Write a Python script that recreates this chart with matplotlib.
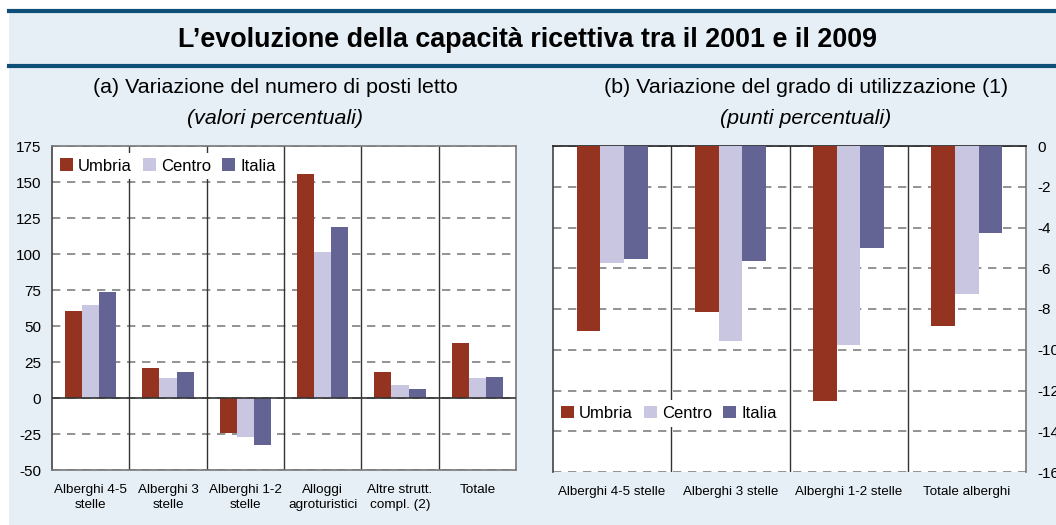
import numpy as np
import matplotlib.pyplot as plt
from matplotlib.lines import Line2D

plt.rcParams['font.family'] = ['Liberation Sans', 'DejaVu Sans']
plt.rcParams['axes.unicode_minus'] = False

series = ['Umbria', 'Centro', 'Italia']
colors = ['#943420', '#C9C6E2', '#636394']

cat_a = ['Alberghi 4-5\nstelle', 'Alberghi 3\nstelle', 'Alberghi 1-2\nstelle',
         'Alloggi\nagroturistici', 'Altre strutt.\ncompl. (2)', 'Totale']
umbria_a = [60.4, 20.8, -24.3, 155.6, 18.0, 38.2]
centro_a = [64.6, 13.9, -26.9, 101.4, 9.0, 13.9]
italia_a = [73.6, 18.0, -32.6, 118.8, 6.3, 14.6]

cat_b = ['Alberghi 4-5 stelle', 'Alberghi 3 stelle', 'Alberghi 1-2 stelle', 'Totale alberghi']
umbria_b = [-9.07, -8.14, -12.5, -8.83]
centro_b = [-5.73, -9.57, -9.76, -7.26]
italia_b = [-5.54, -5.63, -5.0, -4.26]

bg = '#E6EFF6'
navy = '#0E5078'

fig = plt.figure(figsize=(10.56, 5.25), dpi=100)
fig.patch.set_facecolor('white')

# background panel and title band
fig.patches.append(plt.Rectangle((9 / 1056, 0), 1 - 9 / 1056, 1 - 11 / 525,
                                 transform=fig.transFigure, facecolor=bg, edgecolor='none', zorder=-10))
for yy in [11, 66]:
    fig.add_artist(Line2D([9 / 1056, 1], [1 - yy / 525] * 2, transform=fig.transFigure,
                          color=navy, lw=3))
fig.text(0.5, 1 - 40 / 525, 'L\u2019evoluzione della capacità ricettiva tra il 2001 e il 2009',
         ha='center', va='center', fontsize=19.4, fontweight='bold', color='black')

fig.text(275 / 1056, 1 - 88 / 525, '(a) Variazione del numero di posti letto',
         ha='center', va='center', fontsize=15.4)
fig.text(275 / 1056, 1 - 118 / 525, '(valori percentuali)',
         ha='center', va='center', fontsize=15.4, style='italic')
fig.text(806 / 1056, 1 - 88 / 525, '(b) Variazione del grado di utilizzazione (1)',
         ha='center', va='center', fontsize=15.4)
fig.text(806 / 1056, 1 - 118 / 525, '(punti percentuali)',
         ha='center', va='center', fontsize=15.4, style='italic')


def draw_panel(ax, cats, vals, width, lab_size):
    n = len(cats)
    x = np.arange(n)
    for i, (v, c, s) in enumerate(zip(vals, colors, series)):
        ax.bar(x + (i - 1) * width, v, width, color=c, label=s, zorder=3)
    ax.set_xlim(-0.5, n - 0.5)
    ax.set_xticks(x)
    ax.set_xticklabels(cats, linespacing=1.4)
    ax.grid(axis='y', color='#808080', ls=(0, (5, 4)), lw=1.2, zorder=1)
    for b in np.arange(0.5, n - 0.5):
        ax.axvline(b, color='#333333', lw=1, zorder=2)
    ax.tick_params(length=0)
    ax.tick_params(axis='y', labelsize=11, pad=8)
    ax.tick_params(axis='x', labelsize=lab_size, pad=10)
    for sp in ax.spines.values():
        sp.set_color('#777777')
        sp.set_linewidth(1.2)
    ax.set_facecolor('white')


legend_kw = dict(ncol=3, fontsize=12, handlelength=0.8, handleheight=0.8, handletextpad=0.3,
                 columnspacing=0.65, frameon=True, facecolor='white', edgecolor='none',
                 framealpha=1, borderpad=0.35, fancybox=False)

ax1 = fig.add_axes([52 / 1056, 1 - 470 / 525, 464 / 1056, 324 / 525])
draw_panel(ax1, cat_a, [umbria_a, centro_a, italia_a], 0.22, 9.7)
ax1.set_ylim(-50, 175)
ax1.set_yticks(np.arange(-50, 176, 25))
ax1.axhline(0, color='#333333', lw=1.2, zorder=4)
ax1.spines['left'].set_color('#444444')
leg1 = ax1.legend(loc='upper left', bbox_to_anchor=(0.0, 0.985), borderaxespad=0.1, **legend_kw)
leg1.set_zorder(5)

ax2 = fig.add_axes([553 / 1056, 1 - 472 / 525, 473 / 1056, 326 / 525])
draw_panel(ax2, cat_b, [umbria_b, centro_b, italia_b], 0.2, 9.6)
ax2.set_ylim(-16, 0)
ax2.set_yticks(np.arange(-16, 1, 2))
ax2.yaxis.tick_right()
ax2.spines['top'].set_color('#222222')
ax2.spines['left'].set_color('#444444')
ax2.spines['bottom'].set_visible(False)
leg2 = ax2.legend(loc='center left', bbox_to_anchor=(0.0, 0.18), borderaxespad=0.1, **legend_kw)
leg2.set_zorder(5)

fig.savefig('out.png', dpi=100, facecolor=fig.get_facecolor())
